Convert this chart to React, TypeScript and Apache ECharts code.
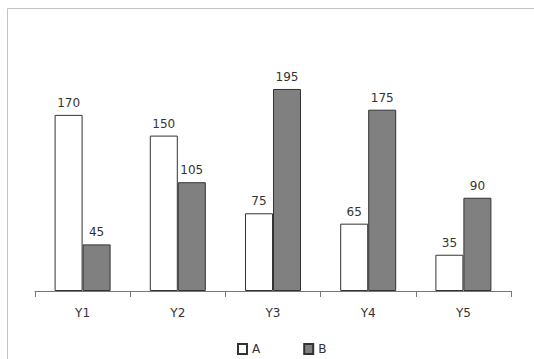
import React, { useEffect, useRef } from "react";
import * as echarts from "echarts";

const categories = ["Y1", "Y2", "Y3", "Y4", "Y5"];
const seriesA = [170, 150, 75, 65, 35];
const seriesB = [45, 105, 195, 175, 90];

export default function App() {
  const ref = useRef<HTMLDivElement>(null);
  useEffect(() => {
    if (!ref.current) return;
    const chart = echarts.init(ref.current, undefined, { renderer: "svg" });
    const font = "DejaVu Sans";
    chart.setOption({
      animation: false,
      backgroundColor: "#ffffff",
      textStyle: { fontFamily: font },
      graphic: [
        {
          type: "rect",
          shape: { x: 7.5, y: 8.5, width: 540, height: 360 },
          style: { fill: "none", stroke: "#c4c4c4", lineWidth: 1 },
          silent: true,
          z: -1,
        },
      ],
      grid: { left: 35, right: 23, top: 32, height: 259 },
      legend: {
        top: 338,
        left: 232,
        icon: "rect",
        itemWidth: 9,
        itemHeight: 10,
        itemGap: 43,
        textStyle: { fontFamily: font, fontSize: 12, color: "#333" },
        data: ["A", "B"],
      },
      xAxis: {
        type: "category",
        data: categories,
        axisLine: { lineStyle: { color: "#777", width: 1 } },
        axisTick: { show: true, length: 6, lineStyle: { color: "#777", width: 1 } },
        axisLabel: { margin: 16, fontSize: 12, color: "#333", fontFamily: font },
      },
      yAxis: {
        type: "value",
        min: 0,
        max: 250,
        show: false,
        splitLine: { show: false },
      },
      series: [
        {
          name: "A",
          type: "bar",
          data: seriesA,
          barWidth: 28,
          barGap: "0%",
          itemStyle: { color: "#ffffff", borderColor: "#333", borderWidth: 1 },
          label: { show: true, position: "top", distance: 6, fontSize: 12, color: "#333", fontFamily: font },
        },
        {
          name: "B",
          type: "bar",
          data: seriesB,
          barWidth: 28,
          barGap: "0%",
          itemStyle: { color: "#808080", borderColor: "#333", borderWidth: 1 },
          label: { show: true, position: "top", distance: 6, fontSize: 12, color: "#333", fontFamily: font },
        },
      ],
    });
    return () => chart.dispose();
  }, []);
  return (
    <div
      ref={ref}
      style={{ position: "fixed", left: 0, top: 0, width: 534, height: 359 }}
    />
  );
}
